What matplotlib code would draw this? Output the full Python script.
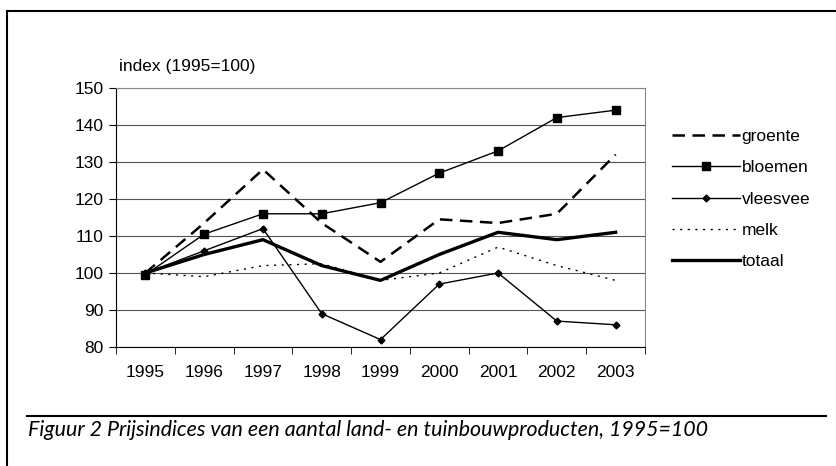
#!/usr/bin/env python3
"""Prijsindices van land- en tuinbouwproducten, 1995=100."""

import matplotlib
matplotlib.use("Agg")
import matplotlib.pyplot as plt
from matplotlib.lines import Line2D

# ---------------------------------------------------------------------------
# Data
# ---------------------------------------------------------------------------
years = ["1995", "1996", "1997", "1998", "1999", "2000", "2001", "2002", "2003"]
groente = [100, 113.5, 128, 113.5, 103, 114.5, 113.5, 116, 132]
bloemen = [99.5, 110.5, 116, 116, 119, 127, 133, 142, 144]
vleesvee = [100, 106, 112, 89, 82, 97, 100, 87, 86]
melk = [100, 99, 102, 102.5, 98, 100, 107, 102, 98]
totaal = [100, 105, 109, 102, 98, 105, 111, 109, 111]

y_ticks = [80, 90, 100, 110, 120, 130, 140, 150]

plt.rcParams["font.family"] = ["Liberation Sans", "DejaVu Sans"]
FS = 12.5

fig = plt.figure(figsize=(8.37, 4.66), dpi=100)
ax = fig.add_axes([0.1386, 0.2554, 0.632, 0.5558])

x = range(len(years))
ax.plot(x, groente, color="black", linewidth=1.8, dashes=(5, 3), label="groente")
ax.plot(x, bloemen, color="black", linewidth=1.0, marker="s", markersize=6,
        label="bloemen")
ax.plot(x, vleesvee, color="black", linewidth=1.0, marker="D", markersize=3.5,
        label="vleesvee")
ax.plot(x, melk, color="black", linewidth=1.0, linestyle=(0, (1.5, 4)),
        label="melk")
ax.plot(x, totaal, color="black", linewidth=2.4, label="totaal")

# axes styling (Excel-like)
ax.set_xlim(-0.5, len(years) - 0.5)
ax.set_ylim(80, 150)
ax.set_yticks(y_ticks)
ax.set_xticks(list(x))
ax.set_xticklabels(years)
ax.set_xticks([i - 0.5 for i in range(len(years) + 1)], minor=True)
ax.tick_params(axis="x", which="major", length=0, pad=13, labelsize=FS)
ax.tick_params(axis="x", which="minor", length=5, direction="out", color="black")
ax.tick_params(axis="y", length=5, direction="out", pad=4, labelsize=FS)
ax.yaxis.grid(True, color="#555555", linewidth=0.8)
ax.set_axisbelow(True)
for side in ("top", "right"):
    ax.spines[side].set_color("#888888")
for side in ("left", "bottom"):
    ax.spines[side].set_color("black")

fig.text(119 / 837, 1 - 66 / 466, "index (1995=100)", fontsize=FS,
         ha="left", va="center")

ax.legend(loc="upper left", bbox_to_anchor=(672 / 837, 1 - 129 / 466),
          bbox_transform=fig.transFigure, frameon=False, fontsize=FS,
          handlelength=3.9, handletextpad=0.1, labelspacing=0.93,
          borderpad=0, borderaxespad=0)

# outer frame and caption rule
fig.add_artist(Line2D([7 / 837, 7 / 837], [0, 1 - 11 / 466],
                      transform=fig.transFigure, color="black", linewidth=1.5))
fig.add_artist(Line2D([7 / 837, 1], [1 - 11 / 466, 1 - 11 / 466],
                      transform=fig.transFigure, color="black", linewidth=1.5))
fig.add_artist(Line2D([27 / 837, 826 / 837], [1 - 416 / 466, 1 - 416 / 466],
                      transform=fig.transFigure, color="black", linewidth=1.5))

fig.text(28 / 837, 1 - 430 / 466,
         "Figuur 2 Prijsindices van een aantal land- en tuinbouwproducten, 1995=100",
         fontsize=15.4, style="italic", ha="left", va="center",
         family=["Lato", "DejaVu Sans"])

fig.savefig("out.png", dpi=100)
